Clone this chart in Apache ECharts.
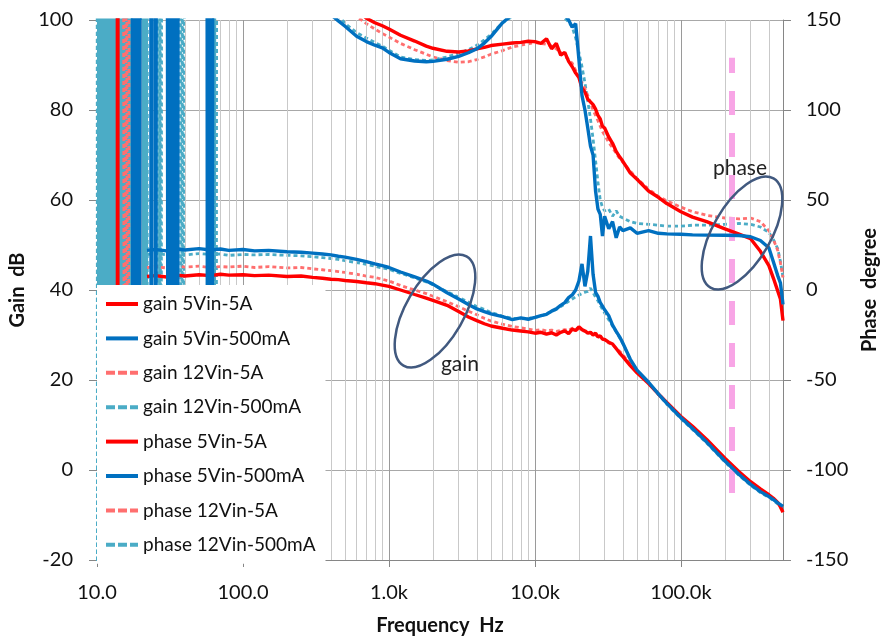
<!DOCTYPE html>
<html>
<head>
<meta charset="utf-8">
<script src="https://cdn.jsdelivr.net/npm/echarts@6/dist/echarts.min.js"></script>
<style>
  html, body { margin: 0; padding: 0; background: #ffffff; }
  #chart { width: 881px; height: 636px; }
</style>
</head>
<body>
<div id="chart"></div>
<script>
// Loop response (Bode plot): gain in dB on the left axis, phase in degrees on the right.

const freqHz = [
  22, 25, 30, 35, 40, 50, 60, 70, 80, 100,
  120, 150, 200, 250, 300, 350, 400, 450, 500, 600,
  700, 800, 900, 1000, 1200, 1500, 1800, 2000, 2500, 3000,
  3500, 4000, 4500, 5000, 6000, 7000, 8000, 9000, 10000, 11000,
  12000, 13000, 14000, 15000, 16000, 17000, 18000, 19000, 20000, 21000,
  22000, 23000, 24000, 25000, 26000, 27000, 28000, 29000, 30000, 32000,
  34000, 36000, 38000, 40000, 45000, 50000, 60000, 70000, 80000, 100000,
  120000, 150000, 200000, 250000, 300000, 350000, 400000, 430000, 460000, 480000,
  500000
];

const gain5V5A = [
  43.0, 43.2, 42.9, 43.3, 43.1, 43.4, 43.2, 43.5, 43.3, 43.4,
  43.2, 43.3, 43.0, 43.1, 42.8, 42.6, 42.4, 42.3, 42.1, 41.9,
  41.6, 41.4, 41.1, 40.8, 40.0, 39.0, 38.2, 37.7, 36.6, 35.2,
  34.0, 33.2, 32.5, 32.0, 31.5, 31.1, 30.9, 30.7, 30.4, 30.6,
  30.2, 30.5, 30.0, 30.6, 30.9, 30.3, 31.3, 31.0, 31.8, 31.2,
  30.9, 30.4, 30.6, 30.0, 30.4, 29.6, 29.8, 29.1, 29.0, 28.4,
  28.0, 27.0, 26.0, 25.2, 23.2, 21.6, 19.2, 16.9, 15.0, 11.9,
  9.7, 6.8, 2.6, -0.4, -2.6, -4.2, -5.5, -6.3, -7.2, -8.2,
  -9.4
];

const gain5V500mA = [
  48.8, 49.0, 48.7, 49.1, 48.9, 49.2, 48.9, 49.1, 48.8, 49.0,
  48.7, 48.8, 48.5, 48.4, 48.2, 48.0, 47.8, 47.5, 47.3, 46.8,
  46.3, 45.8, 45.4, 45.0, 44.0, 42.9, 42.0, 41.3, 39.4, 38.0,
  36.8, 35.8, 35.2, 34.7, 34.1, 33.4, 33.8, 33.5, 33.9, 34.3,
  34.6, 35.3, 35.8, 36.6, 37.2, 38.3, 38.9, 40.0, 42.0, 45.8,
  40.8, 44.2, 52.0, 43.5, 39.5, 38.6, 37.2, 36.4, 35.6, 34.3,
  32.2, 30.8, 29.6, 28.2, 24.6, 22.2, 19.5, 16.9, 14.8, 11.6,
  9.2, 6.2, 2.0, -1.0, -3.2, -4.8, -5.9, -6.6, -7.3, -7.7,
  -8.1
];

const gain12V5A = [
  45.0, 45.2, 44.9, 45.3, 45.1, 45.3, 45.0, 45.2, 45.1, 45.3,
  45.0, 45.2, 44.9, 45.0, 44.7, 44.5, 44.3, 44.1, 43.9, 43.5,
  43.1, 42.8, 42.4, 42.0, 41.0, 40.0, 39.2, 38.6, 37.4, 36.3,
  35.3, 34.5, 33.7, 33.1, 32.4, 31.9, 31.6, 31.3, 31.0, 31.2,
  30.9, 31.1, 30.8, 31.0, 31.2, 31.0, 31.5, 31.4, 31.3, 31.0,
  30.8, 30.6, 30.5, 30.1, 30.0, 29.6, 29.6, 29.1, 28.9, 28.2,
  27.8, 27.0, 26.4, 25.6, 23.6, 21.9, 19.4, 17.0, 15.0, 11.8,
  9.5, 6.5, 2.3, -0.6, -2.8, -4.4, -5.7, -6.4, -7.2, -7.9,
  -8.6
];

const gain12V500mA = [
  47.9, 48.1, 47.8, 48.0, 47.8, 48.1, 47.9, 48.0, 47.7, 47.9,
  47.8, 47.9, 47.7, 47.6, 47.4, 47.2, 47.0, 46.8, 46.5, 46.1,
  45.7, 45.3, 44.9, 44.6, 43.7, 42.7, 41.8, 41.2, 39.6, 38.4,
  37.3, 36.3, 35.7, 35.0, 34.2, 33.7, 33.6, 33.7, 33.9, 34.2,
  34.7, 35.2, 35.7, 36.3, 36.9, 37.5, 38.0, 38.5, 38.9, 39.2,
  39.5, 39.7, 40.4, 39.4, 38.4, 37.6, 36.6, 35.7, 34.9, 33.4,
  32.0, 30.7, 29.4, 28.1, 24.5, 22.0, 19.3, 16.8, 14.6, 11.4,
  9.0, 6.0, 1.8, -1.2, -3.4, -5.0, -6.1, -6.8, -7.5, -8.0,
  -8.7
];

const phase5V5A = [
  null, null, null, null, null, null, null, null, null, null,
  null, null, null, null, null, null, null, null, 162, 156,
  151, 148.5, 146.8, 145, 141.5, 138.3, 135.5, 134.3, 132.6, 132.2,
  132.8, 134, 134.8, 135.8, 136.6, 137.2, 137.6, 138.2, 138, 137,
  139.5, 134, 137, 130.5, 132, 127, 124, 120.5, 118, 112,
  110, 106, 104.5, 103, 100.5, 97, 95, 91, 90, 85,
  81.5, 77, 74, 71.5, 65, 61.5, 55, 51.5, 48, 43.5,
  40.5, 38, 34, 31, 28.5, 21.5, 13.5, 6.5, -0.5, -5,
  -17
];

const phase5V500mA = [
  null, null, null, null, null, null, null, null, null, null,
  null, null, null, null, null, null, 153, 149.5, 146.5, 141,
  138, 136, 134.5, 132, 128.5, 127.2, 126.8, 127, 128.2, 129.8,
  131.8, 134, 137.2, 140.8, 148.5, 153, 157, 158, 159, 160,
  158, 157, 156, 155, 153, 150, 146, 148, 128, 108,
  100, 90, 80, 75, 55, 45, 42, 30, 41, 34,
  38, 29, 35, 33, 34.5, 31.5, 33, 31.5, 31.2, 31,
  30.6, 30.5, 30.4, 30.3, 29.6, 27.5, 23.5, 15.5, 8, 4,
  -8
];

const phase12V5A = [
  null, null, null, null, null, null, null, null, null, null,
  null, null, null, null, null, null, null, null, 158, 152,
  148, 145, 142.5, 140.5, 137, 133.5, 131, 129.5, 127.5, 126.5,
  126.8, 128, 129.5, 131, 133, 135, 136, 136.8, 137.5, 137,
  136.5, 135.5, 134, 132, 130, 128, 126, 122, 118, 115,
  112, 108, 104, 100, 97, 94, 91, 88, 86, 82,
  79, 76, 73, 71, 66, 62, 56, 52, 49.5, 46,
  43.5, 41.5, 40, 39.5, 40, 38, 33, 28, 22, 15,
  7
];

const phase12V500mA = [
  null, null, null, null, null, null, null, null, null, null,
  null, null, null, null, null, null, 157.5, 152.5, 148, 143,
  140, 137.5, 135.5, 133.2, 129.5, 128, 127.5, 127.8, 129.5, 131.5,
  133.5, 136, 139, 142, 148.5, 152, 155, 156, 157, 157,
  156, 155, 154, 153, 151, 149, 146, 140, 132, 124,
  115, 105, 95, 84, 72, 60, 50, 46, 44, 45,
  41, 44, 41, 40, 38, 37, 36.5, 36, 35.5, 35.5,
  36, 36, 36.5, 37, 36.5, 35, 32, 28, 23, 16,
  7
];

// Start of the sweep (10-66 Hz): the phase reading swings off scale in both directions.
const lfBlueHz = [
  17.4, 17.7, 18.0, 18.3, 18.6, 18.9, 19.2, 19.5, 19.8,
  23.3, 23.6, 23.9,
  25.1, 25.3, 25.5,
  30.2, 30.8, 31.4, 32.0, 32.6, 33.2, 33.8, 34.4, 35.0, 35.6, 36.0,
  56.6, 57.3, 58.0, 58.7, 59.4, 60.1, 60.8, 61.5, 62.2
];
const lfBlueDeg = [
  400, -400, 400, -400, 400, -400, 400, -400, 400,
  400, -400, 400,
  400, -400, 400,
  400, -400, 400, -400, 400, -400, 400, -400, 400, -400, 400,
  400, -400, 400, -400, 400, -400, 400, -400, 400
];
const lfRedHz = [13.75, 13.85, 13.95];
const lfRedDeg = [400, -400, 400];
const lfLightRedHz = [15.1, 15.5, 15.9, 16.3, 16.7];
const lfLightRedDeg = [400, -400, 400, -400, 400];
const lfTealHz = [
  10.0, 10.1, 10.2, 10.3, 10.4, 10.5, 10.6, 10.7, 10.8, 10.9,
  11.0, 11.1, 11.2, 11.3, 11.4, 11.5, 11.6, 11.7, 11.8, 11.9,
  12.0, 12.1, 12.2, 12.3, 12.4, 12.5, 12.6, 12.7, 12.8, 12.9,
  13.0, 13.1, 13.2, 13.3, 13.4, 13.5, 13.6, 13.7, 13.8, 13.9,
  14.0, 14.1, 14.2, 14.3, 14.4, 14.5, 14.6, 14.7, 14.8, 14.9,
  15.0, 15.1, 15.2, 15.3, 15.4, 15.5, 15.6, 15.7, 15.8, 15.9,
  16.0, 16.1, 16.2, 16.3, 16.4, 16.5, 16.6, 16.7, 16.8, 16.9,
  17.0, 17.1, 17.2,
  19.8, 20.0, 20.2, 20.4, 20.6, 20.8, 21.0, 21.2, 21.4, 21.6, 21.8, 22.0, 22.2,
  26.2, 26.6, 27.0, 27.4, 27.8,
  37.1, 37.8, 38.5, 39.2, 39.9,
  62.4, 63.4, 64.4, 65.4, 66.2
];
const lfTealDeg = [
  400, -400, 400, -400, 400, -400, 400, -400, 400, -400,
  400, -400, 400, -400, 400, -400, 400, -400, 400, -400,
  400, -400, 400, -400, 400, -400, 400, -400, 400, -400,
  400, -400, 400, -400, 400, -400, 400, -400, 400, -400,
  400, -400, 400, -400, 400, -400, 400, -400, 400, -400,
  400, -400, 400, -400, 400, -400, 400, -400, 400, -400,
  400, -400, 400, -400, 400, -400, 400, -400, 400, -400,
  400, -400, 400,
  400, -400, 400, -400, 400, -400, 400, -400, 400, -400, 400, -400, 400,
  400, -400, 400, -400, 400,
  400, -400, 400, -400, 400,
  400, -400, 400, -400, 400
];

// Decade sub-divisions for the log grid
const minorTicksHz = [
  20, 30, 40, 50, 60, 70, 80, 90,
  200, 300, 400, 500, 600, 700, 800, 900,
  2000, 3000, 4000, 5000, 6000, 7000, 8000, 9000,
  20000, 30000, 40000, 50000, 60000, 70000, 80000, 90000,
  200000, 300000, 400000
];
const crossoverHz = 222000;

const seriesNames = [
  'gain 5Vin-5A', 'gain 5Vin-500mA', 'gain 12Vin-5A', 'gain 12Vin-500mA',
  'phase 5Vin-5A', 'phase 5Vin-500mA', 'phase 12Vin-5A', 'phase 12Vin-500mA'
];

const RED = '#ff0000';
const BLUE = '#0070c0';
const LIGHT_RED = '#ff6f6f';
const TEAL = '#4bacc6';
const FONT = 'Lato, "Open Sans", sans-serif';
const TEXT = '#111111';
const DASH = [4, 3];
const ICON_SOLID = 'path://M0,0h32v4h-32z';
const ICON_DASHED = 'path://M0,0h9v4h-9zM12,0h9v4h-9zM24,0h8v4h-8z';

function pairs(fs, vs) {
  const out = [];
  for (let i = 0; i < fs.length; i++) {
    if (vs[i] !== null) out.push([fs[i], vs[i]]);
  }
  return out;
}

function freqLabel(v) {
  const e = Math.log10(v);
  if (Math.abs(e - Math.round(e)) > 1e-6) return '';
  const r = Math.pow(10, Math.round(e));
  return r >= 1000 ? (r / 1000).toFixed(1) + 'k' : r.toFixed(1);
}

function trace(name, axis, color, dashed, z, data) {
  return {
    name: name,
    type: 'line',
    xAxisIndex: 0,
    yAxisIndex: axis,
    symbol: 'none',
    clip: true,
    silent: true,
    lineStyle: { color: color, width: dashed ? 2.8 : 3.4, type: dashed ? DASH : 'solid' },
    itemStyle: { color: color },
    data: data,
    z: z
  };
}

const chart = echarts.init(document.getElementById('chart'), null, { renderer: 'canvas' });

const option = {
  animation: false,
  backgroundColor: '#ffffff',
  textStyle: { fontFamily: FONT, color: TEXT },
  grid: { left: 97, right: 98, top: 20, bottom: 76, containLabel: false, outerBoundsMode: 'none' },
  xAxis: {
    type: 'log',
    logBase: 10,
    min: 10,
    max: 500000,
    axisLine: { show: true, onZero: false, lineStyle: { color: '#868686', width: 1 } },
    axisTick: { show: true, length: 7, lineStyle: { color: '#868686' } },
    axisLabel: { formatter: freqLabel, fontSize: 20, margin: 23, color: TEXT, fontFamily: FONT, showMaxLabel: false },
    splitLine: { show: true, lineStyle: { color: '#9a9a9a', width: 1 } },
    name: 'Frequency  Hz',
    nameLocation: 'middle',
    nameGap: 56,
    nameTextStyle: { fontSize: 20, fontWeight: 'bold', color: TEXT, fontFamily: FONT }
  },
  yAxis: [
    {
      type: 'value',
      position: 'left',
      min: -20,
      max: 100,
      interval: 20,
      axisLine: { show: true, onZero: false, lineStyle: { color: '#868686' } },
      axisTick: { show: true, length: 8, lineStyle: { color: '#868686' } },
      axisLabel: { fontSize: 20, margin: 24, color: TEXT, fontFamily: FONT },
      splitLine: { show: true, lineStyle: { color: '#a8a8a8', width: 1 } },
      name: 'Gain  dB',
      nameLocation: 'middle',
      nameRotate: 90,
      nameGap: 63,
      nameTextStyle: { fontSize: 20, fontWeight: 'bold', color: TEXT, fontFamily: FONT }
    },
    {
      type: 'value',
      position: 'right',
      min: -150,
      max: 150,
      interval: 50,
      axisLine: { show: true, onZero: false, lineStyle: { color: '#868686' } },
      axisTick: { show: true, length: 8, lineStyle: { color: '#868686' } },
      axisLabel: { fontSize: 20, margin: 23, color: TEXT, fontFamily: FONT },
      splitLine: { show: false },
      name: 'Phase  degree',
      nameLocation: 'middle',
      nameRotate: 90,
      nameGap: 74,
      nameTextStyle: { fontSize: 20, fontWeight: 'bold', color: TEXT, fontFamily: FONT }
    }
  ],
  legend: {
    orient: 'vertical',
    left: 97,
    top: 285,
    z: 20,
    padding: [9, 10, 9, 9],
    backgroundColor: '#ffffff',
    itemWidth: 32,
    itemHeight: 4,
    itemGap: 14.4,
    selectedMode: false,
    textStyle: { fontSize: 19, color: TEXT, fontFamily: FONT, lineHeight: 20 },
    data: seriesNames.map(function (n) {
      return { name: n, icon: n.indexOf('12Vin') >= 0 ? ICON_DASHED : ICON_SOLID };
    })
  },
  graphic: [
    {
      type: 'ellipse', x: 435, y: 311, rotation: Math.PI / 3, z: 50,
      shape: { cx: 0, cy: 0, rx: 63, ry: 29 },
      style: { fill: 'none', stroke: '#41597f', lineWidth: 2.5 }
    },
    {
      type: 'ellipse', x: 742, y: 233, rotation: Math.PI / 3, z: 50,
      shape: { cx: 0, cy: 0, rx: 63, ry: 29 },
      style: { fill: 'none', stroke: '#41597f', lineWidth: 2.5 }
    },
    {
      type: 'text', x: 460, y: 364, z: 50,
      style: { text: 'gain', fontSize: 21, fontFamily: FONT, fill: '#222222', align: 'center', verticalAlign: 'middle' }
    },
    {
      type: 'text', x: 740, y: 168, z: 50,
      style: { text: 'phase', fontSize: 21, fontFamily: FONT, fill: '#222222', align: 'center', verticalAlign: 'middle' }
    }
  ],
  series: [
    {
      type: 'line',
      xAxisIndex: 0,
      yAxisIndex: 0,
      silent: true,
      data: [],
      z: 1,
      markLine: {
        silent: true,
        symbol: ['none', 'none'],
        label: { show: false },
        animation: false,
        lineStyle: { color: '#c9c9c9', width: 1, type: 'solid' },
        data: minorTicksHz.map(function (f) { return { xAxis: f }; })
      }
    },
    {
      type: 'line',
      xAxisIndex: 0,
      yAxisIndex: 0,
      silent: true,
      data: [],
      z: 2,
      markLine: {
        silent: true,
        symbol: ['none', 'none'],
        label: { show: false },
        animation: false,
        lineStyle: { color: '#f8a5e6', width: 6, type: [24, 18] },
        data: [[{ coord: [crossoverHz, -5.1] }, { coord: [crossoverHz, 91.6] }]]
      }
    },
    trace(seriesNames[0], 0, RED, false, 6, pairs(freqHz, gain5V5A)),
    trace(seriesNames[1], 0, BLUE, false, 6, pairs(freqHz, gain5V500mA)),
    trace(seriesNames[2], 0, LIGHT_RED, true, 4, pairs(freqHz, gain12V5A)),
    trace(seriesNames[3], 0, TEAL, true, 3, pairs(freqHz, gain12V500mA)),
    trace(seriesNames[4], 1, RED, false, 6, pairs(lfRedHz, lfRedDeg).concat(pairs(freqHz, phase5V5A))),
    trace(seriesNames[5], 1, BLUE, false, 6, pairs(lfBlueHz, lfBlueDeg).concat(pairs(freqHz, phase5V500mA))),
    trace(seriesNames[6], 1, LIGHT_RED, true, 4, pairs(lfLightRedHz, lfLightRedDeg).concat(pairs(freqHz, phase12V5A))),
    trace(seriesNames[7], 1, TEAL, true, 3, pairs(lfTealHz, lfTealDeg).concat(pairs(freqHz, phase12V500mA)))
  ]
};

chart.setOption(option);
</script>
</body>
</html>
